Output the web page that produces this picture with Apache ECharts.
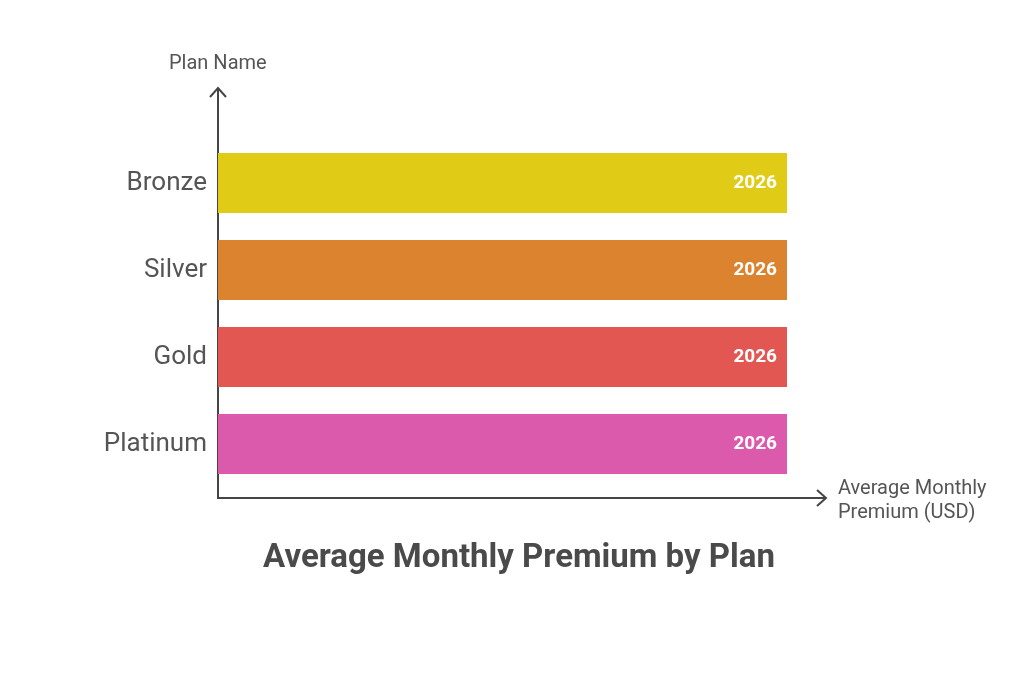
<!DOCTYPE html>
<html><head><meta charset="utf-8">
<script src="https://cdn.jsdelivr.net/npm/echarts@6/dist/echarts.min.js"></script>
<style>html,body{margin:0;padding:0;background:#fff}#c{width:1024px;height:675px}</style>
</head><body><div id="c"></div>
<script>
const categories = ['Bronze', 'Silver', 'Gold', 'Platinum'];
const values = [2026, 2026, 2026, 2026];
const colors = ['#E0CB16', '#DC8330', '#E35752', '#DC5AAB'];
const axisColor = '#454545';
const G = { left: 218, top: 139.5, width: 569, height: 348 };
const axisY = 498, yTop = 88, xEnd = 826;

const chart = echarts.init(document.getElementById('c'));
chart.setOption({
  backgroundColor: '#fff',
  animation: false,
  title: {
    text: 'Average Monthly Premium by Plan',
    left: 514, top: 537, textAlign: 'center',
    textStyle: { fontFamily: 'Roboto', fontWeight: 'bold', fontSize: 33, color: '#4a4a4a' }
  },
  grid: { left: G.left, top: G.top, width: G.width, height: G.height },
  xAxis: {
    type: 'value', min: 0, max: 2026,
    axisLine: { show: false }, axisTick: { show: false },
    axisLabel: { show: false }, splitLine: { show: false }
  },
  yAxis: {
    type: 'category', data: categories, inverse: true,
    axisLine: { show: false }, axisTick: { show: false }, splitLine: { show: false },
    axisLabel: { fontFamily: 'Roboto', fontSize: 26, color: '#555', margin: 11 }
  },
  series: [{
    type: 'bar',
    barCategoryGap: '31%',
    data: values.map((v, i) => ({ value: v, itemStyle: { color: colors[i] } })),
    label: {
      show: true, position: 'insideRight', distance: 10,
      fontFamily: 'Roboto', fontWeight: 'bold', fontSize: 19, color: '#fff'
    }
  }],
  graphic: [
    { type: 'polyline', shape: { points: [[G.left, yTop], [G.left, axisY], [xEnd, axisY]] },
      style: { stroke: axisColor, lineWidth: 2, fill: null } },
    { type: 'polyline', shape: { points: [[G.left - 8, yTop + 9], [G.left, yTop], [G.left + 8, yTop + 9]] },
      style: { stroke: axisColor, lineWidth: 2, fill: null } },
    { type: 'polyline', shape: { points: [[xEnd - 9, axisY - 8], [xEnd, axisY], [xEnd - 9, axisY + 8]] },
      style: { stroke: axisColor, lineWidth: 2, fill: null } },
    { type: 'text', left: 169, top: 54,
      style: { text: 'Plan Name', fontFamily: 'Roboto', fontSize: 20, fill: '#555' } },
    { type: 'text', left: 838, top: 477,
      style: { text: 'Average Monthly\nPremium (USD)', fontFamily: 'Roboto', fontSize: 20, lineHeight: 24, fill: '#555' } }
  ]
});
</script></body></html>
